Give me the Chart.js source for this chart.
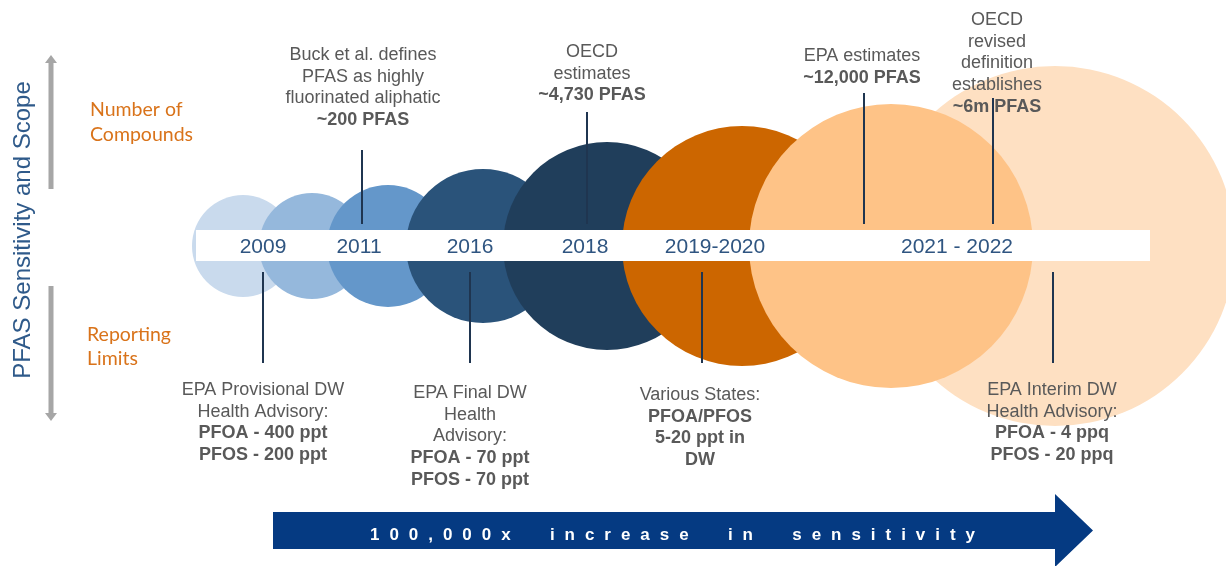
<!DOCTYPE html>
<html>
<head>
<meta charset="utf-8">
<script src="https://cdn.jsdelivr.net/npm/chart.js@4.4.1/dist/chart.umd.min.js"></script>
<style>
  html, body { margin: 0; padding: 0; background: #fff; }
  #wrap { width: 1226px; height: 566px; }
</style>
</head>
<body>
<div id="wrap"><canvas id="timeline" width="1226" height="566"></canvas></div>
<script>
// circles along the timeline, left to right (x = place on the timeline, r = bubble radius)
const circleX = [243, 312, 388, 483, 607, 742, 891]
const circleR = [51, 53, 61, 77, 104, 120, 142]
const circleColors = ['#c9daed', '#95b8dc', '#6497ca', '#2a537a', '#203e5b', '#cc6600', '#fec387']

// the big pale circle behind 2021 - 2022
const backCircleX = [1055]
const backCircleR = [180]
const backCircleColors = ['#fee0c2']

// tick labels on the white band
const years = ['2009', '2011', '2016', '2018', '2019-2020', '2021 - 2022']
const yearX = [263, 359, 470, 585, 715, 957]

// "Number of Compounds" events (above the band)
const compoundText = [
    ['Buck et al. defines', 'PFAS as highly', 'fluorinated aliphatic'],
    ['OECD', 'estimates'],
    ['EPA estimates'],
    ['OECD', 'revised', 'definition', 'establishes'],
]
const compoundBold = [['~200 PFAS'], ['~4,730 PFAS'], ['~12,000 PFAS'], ['~6m PFAS']]
const compoundX = [362, 587, 864, 993]

// "Reporting Limits" events (below the band)
const limitText = [
    ['EPA Provisional DW', 'Health Advisory:'],
    ['EPA Final DW', 'Health', 'Advisory:'],
    ['Various States:'],
    ['EPA Interim DW', 'Health Advisory:'],
]
const limitBold = [
    ['PFOA - 400 ppt', 'PFOS - 200 ppt'],
    ['PFOA - 70 ppt', 'PFOS - 70 ppt'],
    ['PFOA/PFOS', '5-20 ppt in', 'DW'],
    ['PFOA - 4 ppq', 'PFOS - 20 ppq'],
]
const limitX = [263, 470, 702, 1053]

const sideTitle = 'PFAS Sensitivity and Scope'
const arrowText = '100,000x  increase  in  sensitivity'

// layout bits (not data)
const bandY = [230, 261]
const bandX = [196, 1150]
const axisY = 246
const compoundNoteX = [363, 592, 862, 997]
const compoundNoteTop = [55, 52, 56, 20]
const compoundLineTop = [150, 112, 93, 98]
const limitNoteX = [263, 470, 700, 1052]
const limitNoteTop = [390, 393, 395, 390]
const lineH = 21.7

const textFont = '"Liberation Sans", Arial, sans-serif'

function drawLines(ctx, x, top, plain, bold) {
    ctx.textAlign = 'center'
    ctx.textBaseline = 'middle'
    ctx.fillStyle = '#595959'
    let y = top
    plain.forEach(line => {
        ctx.font = `18px ${textFont}`
        ctx.fillText(line, x, y)
        y += lineH
    })
    bold.forEach(line => {
        ctx.font = `bold 18px ${textFont}`
        ctx.fillText(line, x, y)
        y += lineH
    })
}

const decorations = {
    id: 'decorations',
    afterDatasetsDraw(chart) {
        const ctx = chart.ctx
        const xs = chart.scales.x
        const ys = chart.scales.y
        const px = v => xs.getPixelForValue(v)
        const py = v => ys.getPixelForValue(v)
        ctx.save()

        // white band
        ctx.fillStyle = '#ffffff'
        ctx.fillRect(px(bandX[0]), py(bandY[0]), px(bandX[1]) - px(bandX[0]), py(bandY[1]) - py(bandY[0]))

        // year labels
        ctx.fillStyle = '#2f5581'
        ctx.font = `21px ${textFont}`
        ctx.textAlign = 'center'
        ctx.textBaseline = 'middle'
        years.forEach((y, i) => ctx.fillText(y, px(yearX[i]), py(axisY + 1)))

        // notes
        compoundText.forEach((t, i) => drawLines(ctx, px(compoundNoteX[i]), py(compoundNoteTop[i]), t, compoundBold[i]))
        limitText.forEach((t, i) => drawLines(ctx, px(limitNoteX[i]), py(limitNoteTop[i]), t, limitBold[i]))

        // leader lines
        ctx.strokeStyle = '#1f3550'
        ctx.lineWidth = 2
        compoundX.forEach((x, i) => {
            ctx.beginPath()
            ctx.moveTo(px(x), py(compoundLineTop[i]))
            ctx.lineTo(px(x), py(224))
            ctx.stroke()
        })
        limitX.forEach(x => {
            ctx.beginPath()
            ctx.moveTo(px(x), py(272))
            ctx.lineTo(px(x), py(363))
            ctx.stroke()
        })

        // left side title and gray arrows
        ctx.save()
        ctx.translate(23, 230)
        ctx.rotate(-Math.PI / 2)
        ctx.fillStyle = '#2f5a8a'
        ctx.font = `24px ${textFont}`
        ctx.fillText(sideTitle, 0, 0)
        ctx.restore()

        ctx.strokeStyle = '#a6a6a6'
        ctx.fillStyle = '#a6a6a6'
        ctx.lineWidth = 5
        ctx.beginPath()
        ctx.moveTo(51, 189)
        ctx.lineTo(51, 62)
        ctx.moveTo(51, 286)
        ctx.lineTo(51, 413)
        ctx.stroke()
        ctx.beginPath()
        ctx.moveTo(51, 55); ctx.lineTo(57, 63); ctx.lineTo(45, 63); ctx.closePath()
        ctx.moveTo(51, 421); ctx.lineTo(57, 413); ctx.lineTo(45, 413); ctx.closePath()
        ctx.fill()

        ctx.fillStyle = '#d9731a'
        ctx.font = '19.5px Lato, "Open Sans", sans-serif'
        ctx.textAlign = 'left'
        ctx.fillText('Number of', 90, 110)
        ctx.fillText('Compounds', 90, 135)
        ctx.fillText('Reporting', 87, 335)
        ctx.fillText('Limits', 87, 359)

        // big arrow at the bottom
        ctx.fillStyle = '#053a82'
        ctx.beginPath()
        ctx.moveTo(273, 512)
        ctx.lineTo(1055, 512)
        ctx.lineTo(1055, 494)
        ctx.lineTo(1093, 530.5)
        ctx.lineTo(1055, 567)
        ctx.lineTo(1055, 549)
        ctx.lineTo(273, 549)
        ctx.closePath()
        ctx.fill()

        ctx.fillStyle = '#ffffff'
        ctx.font = `bold 17px ${textFont}`
        ctx.textAlign = 'left'
        ctx.letterSpacing = '0px'
        const w0 = ctx.measureText(arrowText).width
        const spacing = (605 - w0) / (arrowText.length - 1)
        ctx.letterSpacing = spacing + 'px'
        ctx.fillText(arrowText, 370, 535)
        ctx.letterSpacing = '0px'

        ctx.restore()
    }
}

new Chart('timeline', {
    type: 'bubble',
    data: {
        datasets: [{
            data: circleX.map((x, i) => ({ x: x, y: axisY, r: circleR[i] })),
            backgroundColor: circleColors,
            borderWidth: 0,
            clip: false,
            order: 1,
        }, {
            data: backCircleX.map((x, i) => ({ x: x, y: axisY, r: backCircleR[i] })),
            backgroundColor: backCircleColors,
            borderWidth: 0,
            clip: false,
            order: 2,
        }]
    },
    options: {
        responsive: false,
        animation: false,
        events: [],
        layout: { padding: 0, autoPadding: false },
        plugins: {
            legend: { display: false },
            tooltip: { enabled: false },
        },
        scales: {
            x: { type: 'linear', display: false, min: 0, max: 1226 },
            y: { type: 'linear', display: false, min: 0, max: 566, reverse: true },
        },
    },
    plugins: [decorations],
})
</script>
</body>
</html>
